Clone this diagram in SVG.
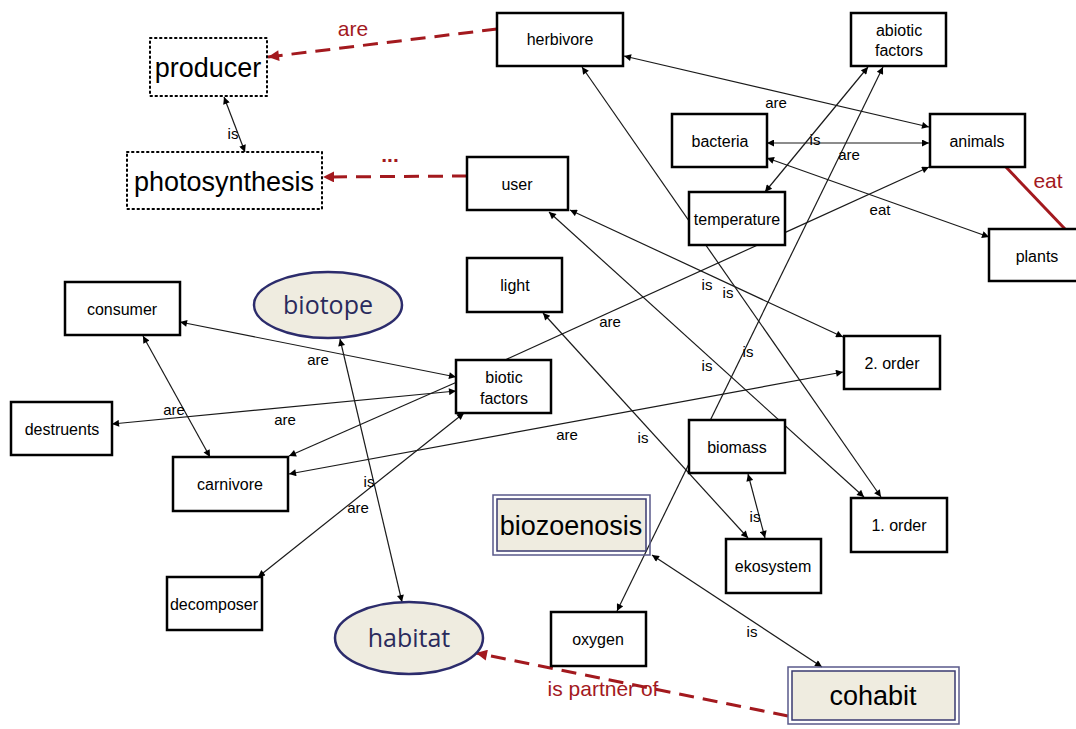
<svg xmlns="http://www.w3.org/2000/svg" width="1076" height="729" viewBox="0 0 1076 729">
<defs>
<marker id="ah" viewBox="0 0 10 10" refX="10" refY="5" markerWidth="10" markerHeight="7" markerUnits="userSpaceOnUse" orient="auto-start-reverse">
<path d="M0,0 L10,5 L0,10 z" fill="#000"/>
</marker>
<marker id="ahr" viewBox="0 0 10 10" refX="10" refY="5" markerWidth="14" markerHeight="11" markerUnits="userSpaceOnUse" orient="auto-start-reverse">
<path d="M0,0 L10,5 L0,10 z" fill="#a3191e"/>
</marker>
<style>
.ln{stroke:#1a1a1a;stroke-width:1.2;fill:none}
.bi{marker-start:url(#ah);marker-end:url(#ah)}
.one{marker-end:url(#ah)}
.red{stroke:#a3191e;stroke-width:3;fill:none}
.dash{stroke-dasharray:15 9}
.box{fill:#fff;stroke:#000;stroke-width:2.5}
.dot{fill:#fff;stroke:#000;stroke-width:2;stroke-dasharray:1.5 3.5;stroke-linecap:round}
.ell{fill:#efece0;stroke:#2c2c6c;stroke-width:2.5}
.dbo{fill:none;stroke:#5a5a8a;stroke-width:1.5}
.dbi{fill:#efece0;stroke:#3a3a70;stroke-width:1.5}
.t{font-family:"Liberation Sans",Arial,sans-serif;font-size:16px;fill:#000;text-anchor:middle}
.big{font-family:"Liberation Sans",Arial,sans-serif;font-size:27px;fill:#000;text-anchor:middle}
.eb{font-family:"Open Sans","Liberation Sans",sans-serif;font-size:25px;fill:#2a2a5c;text-anchor:middle}
.el{font-family:"Liberation Sans",Arial,sans-serif;font-size:15px;fill:#000;text-anchor:middle}
.rl{font-family:"Liberation Sans",Arial,sans-serif;font-size:21px;fill:#a3191e;text-anchor:middle}
</style>
</defs>

<g id="connectors">
<path class="red dash" d="M497,29 L268,57" marker-end="url(#ahr)"/>
<path class="red dash" d="M467,176 L323,177" marker-end="url(#ahr)"/>
<path class="red dash" d="M788,716 L476,653" marker-end="url(#ahr)"/>
<path class="red" d="M1005,166 L1065,229"/>
<path class="ln bi" d="M224,97 L245,152"/>
<path class="ln bi" d="M624,56 L929,127"/>
<path class="ln bi" d="M767,143 L929,143"/>
<path class="ln bi" d="M767,158 L989,237"/>
<path class="ln bi" d="M765,192 L868,67"/>
<path class="ln one" d="M505,360 L929,167"/>
<path class="ln bi" d="M582,67 L881,497"/>
<path class="ln bi" d="M570,210 L843,337"/>
<path class="ln bi" d="M549,212 L864,497"/>
<path class="ln bi" d="M543,313 L748,538"/>
<path class="ln bi" d="M617,611 L883,67"/>
<path class="ln bi" d="M180,322 L456,377"/>
<path class="ln bi" d="M143,336 L210,457"/>
<path class="ln bi" d="M112,424 L456,391"/>
<path class="ln one" d="M457,382 L289,456"/>
<path class="ln bi" d="M843,372 L289,474"/>
<path class="ln bi" d="M258,577 L464,413"/>
<path class="ln bi" d="M340,339 L402,602"/>
<path class="ln bi" d="M748,474 L765,538"/>
<path class="ln bi" d="M652,555 L822,667"/>
<g>
<text class="rl" x="353" y="36">are</text>
<text class="rl" x="390" y="162" font-weight="bold">...</text>
<text class="rl" x="603" y="696">is partner of</text>
<text class="rl" x="1048" y="188">eat</text>
<text class="el" x="233" y="139">is</text>
<text class="el" x="776" y="108">are</text>
<text class="el" x="815" y="145">is</text>
<text class="el" x="849" y="160">are</text>
<text class="el" x="880" y="215">eat</text>
<text class="el" x="610" y="327">are</text>
<text class="el" x="707" y="290">is</text>
<text class="el" x="728" y="298">is</text>
<text class="el" x="748" y="357">is</text>
<text class="el" x="707" y="371">is</text>
<text class="el" x="643" y="443">is</text>
<text class="el" x="755" y="522">is</text>
<text class="el" x="752" y="637">is</text>
<text class="el" x="318" y="365">are</text>
<text class="el" x="174" y="415">are</text>
<text class="el" x="285" y="425">are</text>
<text class="el" x="567" y="440">are</text>
<text class="el" x="358" y="513">are</text>
<text class="el" x="369" y="487">is</text>
</g>
</g>

<g id="producer"><rect class="dot" x="150" y="38" width="117" height="58"/><text class="big" x="208" y="77">producer</text></g>
<g id="photosynthesis"><rect class="dot" x="127" y="152" width="195" height="57"/><text class="big" x="224" y="191">photosynthesis</text></g>
<g id="herbivore"><rect class="box" x="497" y="13" width="126" height="53"/><text class="t" x="560" y="45">herbivore</text></g>
<g id="user"><rect class="box" x="467" y="157" width="101" height="53"/><text class="t" x="517" y="190">user</text></g>
<g id="abiotic"><rect class="box" x="851" y="13" width="95" height="53"/><text class="t" x="899" y="36">abiotic</text><text class="t" x="899" y="56">factors</text></g>
<g id="bacteria"><rect class="box" x="672" y="114" width="95" height="53"/><text class="t" x="720" y="147">bacteria</text></g>
<g id="animals"><rect class="box" x="930" y="114" width="95" height="53"/><text class="t" x="977" y="147">animals</text></g>
<g id="temperature"><rect class="box" x="689" y="192" width="96" height="53"/><text class="t" x="737" y="225">temperature</text></g>
<g id="plants"><rect class="box" x="989" y="229" width="95" height="52"/><text class="t" x="1037" y="262">plants</text></g>
<g id="consumer"><rect class="box" x="65" y="282" width="115" height="53"/><text class="t" x="122" y="315">consumer</text></g>
<g id="biotope"><ellipse class="ell" cx="328" cy="305" rx="74" ry="33"/><text class="eb" x="328" y="314">biotope</text></g>
<g id="light"><rect class="box" x="467" y="258" width="95" height="54"/><text class="t" x="515" y="291">light</text></g>
<g id="biotic"><rect class="box" x="456" y="360" width="95" height="53"/><text class="t" x="504" y="383">biotic</text><text class="t" x="504" y="404">factors</text></g>
<g id="destruents"><rect class="box" x="11" y="402" width="101" height="53"/><text class="t" x="62" y="435">destruents</text></g>
<g id="order2"><rect class="box" x="844" y="336" width="96" height="53"/><text class="t" x="892" y="369">2. order</text></g>
<g id="carnivore"><rect class="box" x="173" y="457" width="115" height="54"/><text class="t" x="230" y="490">carnivore</text></g>
<g id="biomass"><rect class="box" x="689" y="420" width="96" height="53"/><text class="t" x="737" y="453">biomass</text></g>
<g id="order1"><rect class="box" x="851" y="498" width="96" height="54"/><text class="t" x="899" y="531">1. order</text></g>
<g id="biozoenosis"><rect class="dbo" x="493" y="495" width="157" height="60"/><rect class="dbi" x="497" y="499" width="149" height="52"/><text class="big" x="571" y="535">biozoenosis</text></g>
<g id="ekosystem"><rect class="box" x="726" y="539" width="95" height="54"/><text class="t" x="773" y="572">ekosystem</text></g>
<g id="decomposer"><rect class="box" x="167" y="577" width="95" height="53"/><text class="t" x="214" y="610">decomposer</text></g>
<g id="habitat"><ellipse class="ell" cx="409" cy="638" rx="74" ry="36"/><text class="eb" x="409" y="647">habitat</text></g>
<g id="oxygen"><rect class="box" x="551" y="612" width="95" height="54"/><text class="t" x="598" y="645">oxygen</text></g>
<g id="cohabit"><rect class="dbo" x="788" y="667" width="171" height="57"/><rect class="dbi" x="792" y="671" width="163" height="49"/><text class="big" x="873" y="705">cohabit</text></g>
</svg>
